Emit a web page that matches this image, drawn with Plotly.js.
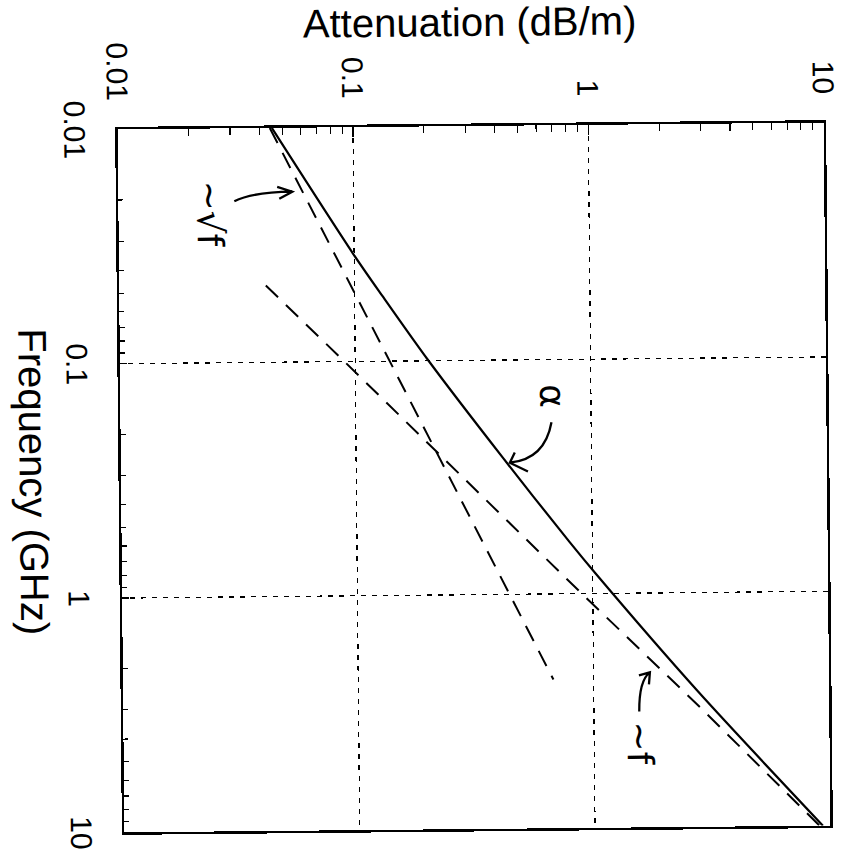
<!DOCTYPE html>
<html>
<head>
<meta charset="utf-8">
<script src="https://cdn.plot.ly/plotly-3.0.1.min.js"></script>
<style>
  html, body { margin: 0; padding: 0; background: #fff; overflow: hidden; }
  #wrap { position: absolute; left: 0; top: 0; width: 847px; height: 851px;
          transform-origin: 474px 478px; transform: rotate(-0.55deg); }
  #plot { position: absolute; left: 0; top: 0; width: 851px; height: 847px;
          transform-origin: 0 0; transform: translate(847px, 0) rotate(90deg); }
</style>
</head>
<body>
<div id="wrap"><div id="plot"></div></div>
<script>
// ---- data ----
const freqAlpha = [0.01, 0.0347, 0.0528, 0.1, 0.261, 0.601, 0.822, 2.64, 10];
const attAlpha  = [0.0452, 0.099, 0.1315, 0.205, 0.42, 0.80, 1.03, 2.77, 9.3];

const freqSqrt = [0.01, 0.1, 1, 2.32];
const attSqrt  = [0.0443, 0.14, 0.443, 0.675];

const freqLin = [0.047, 0.1, 1, 3.09, 10];
const attLin  = [0.042, 0.09, 0.898, 2.83, 9.0];

const tickVals = [0.01, 0.1, 1, 10];
const tickText = ['0.01', '0.1', '1', '10'];
const minorVals = [0.02,0.03,0.04,0.05,0.06,0.07,0.08,0.09,
                   0.2,0.3,0.4,0.5,0.6,0.7,0.8,0.9,
                   2,3,4,5,6,7,8,9];

const labelAlpha = 'α';
const labelSqrt = '~√f';
const labelLin = '~f';
const xTitle = 'Frequency (GHz)';
const yTitle = 'Attenuation (dB/m)';

const traces = [
  { x: freqAlpha, y: attAlpha, mode: 'lines', type: 'scatter',
    line: { color: '#000', width: 2.2, shape: 'spline', smoothing: 0.8 } },
  { x: freqSqrt, y: attSqrt, mode: 'lines', type: 'scatter',
    line: { color: '#000', width: 2, dash: '17px,11px' } },
  { x: freqLin, y: attLin, mode: 'lines', type: 'scatter',
    line: { color: '#000', width: 2, dash: '17px,11px' } }
];

const axisFont = { family: 'Liberation Sans, Arial, sans-serif', size: 30, color: '#000' };
const titleFont = { family: 'Liberation Sans, Arial, sans-serif', size: 40, color: '#000' };

const common = {
  type: 'log', tickmode: 'array', tickvals: tickVals, ticktext: tickText,
  ticks: 'inside', tickcolor: '#000', tickwidth: 1.5,
  showline: true, linecolor: '#000', linewidth: 2.5, mirror: true,
  showgrid: true, gridcolor: '#000', gridwidth: 1.3, griddash: '5px,6px',
  zeroline: false, tickfont: axisFont
};

const hand = { family: 'DejaVu Sans, sans-serif', size: 36, color: '#000' };

const layout = {
  width: 851, height: 847,
  margin: { l: 126, r: 22, t: 20, b: 121 },
  paper_bgcolor: '#fff', plot_bgcolor: '#fff',
  showlegend: false,
  xaxis: Object.assign({}, common, {
    range: [-2, 1], ticklen: 7, ticklabelstandoff: 15,
    minor: { tickmode: 'array', tickvals: minorVals, ticks: 'inside', ticklen: 5, tickcolor: '#000', tickwidth: 1.2, showgrid: false },
    title: { text: xTitle, font: titleFont, standoff: 15 }
  }),
  yaxis: Object.assign({}, common, {
    range: [-2, 1], ticklen: 10, ticklabelstandoff: 20,
    minor: { tickmode: 'array', tickvals: minorVals, ticks: 'inside', ticklen: 7, tickcolor: '#000', tickwidth: 1.2, showgrid: false },
    title: { text: yTitle, font: titleFont, standoff: 12 }
  }),
  annotations: [
    { xref: 'paper', yref: 'paper', x: 0.122, y: 0.129, xanchor: 'center', yanchor: 'middle',
      text: labelSqrt, showarrow: false, font: hand },
    { xref: 'paper', yref: 'paper', x: 0.385, y: 0.612, xanchor: 'center', yanchor: 'middle',
      text: labelAlpha, showarrow: false, font: hand },
    { xref: 'paper', yref: 'paper', x: 0.880, y: 0.731, xanchor: 'center', yanchor: 'middle',
      text: labelLin, showarrow: false, font: hand }
  ],
  shapes: [
    { type: 'path', xref: 'paper', yref: 'paper', line: { color: '#000', width: 2.3 },
      path: 'M0.1038,0.1643 Q0.0910,0.1898 0.0910,0.2465 M0.0839,0.2252 L0.0910,0.2465 L0.1010,0.2280' },
    { type: 'path', xref: 'paper', yref: 'paper', line: { color: '#000', width: 2.3 },
      path: 'M0.4225,0.6105 Q0.4751,0.6006 0.4794,0.5510 M0.4651,0.5581 L0.4794,0.5510 L0.4922,0.5765' },
    { type: 'path', xref: 'paper', yref: 'paper', line: { color: '#000', width: 2.3 },
      path: 'M0.8350,0.7309 Q0.7909,0.7309 0.7795,0.7465 M0.7838,0.7309 L0.7795,0.7465 L0.7966,0.7450' }
  ]
};

Plotly.newPlot('plot', traces, layout, { staticPlot: true, displayModeBar: false });
</script>
</body>
</html>
